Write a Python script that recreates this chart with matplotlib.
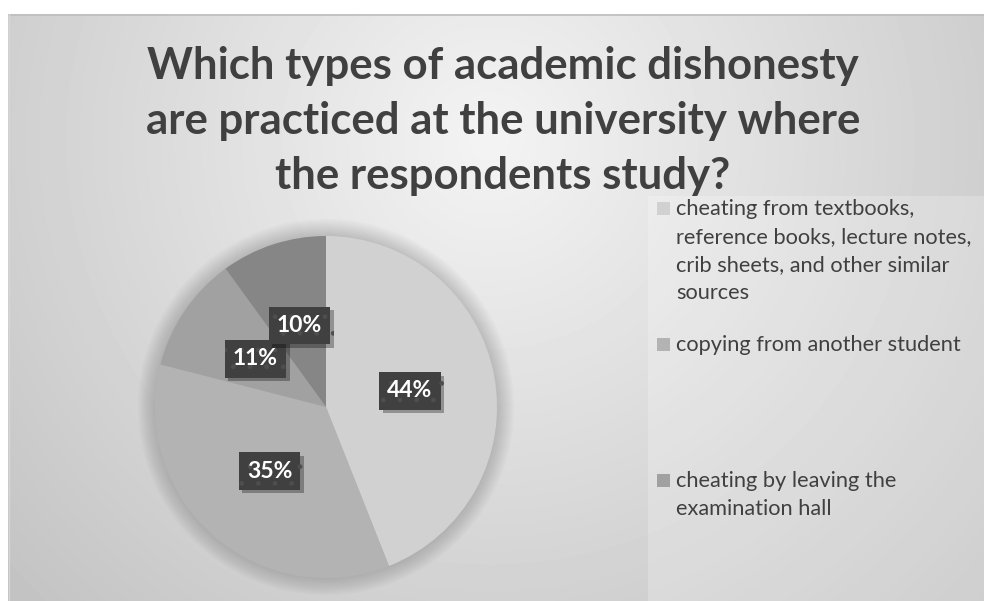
import numpy as np
import matplotlib
matplotlib.use("Agg")
import matplotlib.pyplot as plt
from matplotlib import patheffects
from matplotlib.patches import Rectangle, Circle

# ---- data ----
values = [44, 35, 11, 10]
slice_colors = ["#d1d1d1", "#b3b3b3", "#a1a1a1", "#868686"]
legend_labels = [
    "cheating from textbooks,\nreference books, lecture notes,\ncrib sheets, and other similar\nsources",
    "copying from another student",
    "cheating by leaving the\nexamination hall",
]
title = "Which types of academic dishonesty\nare practiced at the university where\nthe respondents study?"

W, H = 984, 601
fig = plt.figure(figsize=(W / 100, H / 100), dpi=100)
fig.patch.set_facecolor("white")

def fx(x):
    return x / W

def fy(y):
    return 1 - y / H

# ---- background gradient (chart area) ----
x0, y0 = 8, 14
bg = fig.add_axes([fx(x0), 0, 1 - fx(x0), 1 - y0 / H])
bg.set_axis_off()
xs = np.arange(x0, W)
ys = np.arange(y0, H)
XX, YY = np.meshgrid(xs, ys)
d = np.sqrt(((XX - 490) / 1.0) ** 2 + ((YY - 140) / 1.0) ** 2)
val = np.clip(0.955 - 0.00029 * d, 0, 1)
bg.imshow(val, cmap="gray", vmin=0, vmax=1, aspect="auto",
          extent=(x0, W, H, y0), interpolation="bilinear")
bg.set_xlim(x0, W)
bg.set_ylim(H, y0)
# top border line
bg.plot([x0, W], [y0 + 0.5, y0 + 0.5], color="#bdbdbd", lw=1.2)
bg.plot([x0 + 0.5, x0 + 0.5], [y0, H], color="#d5d5d5", lw=1.0)
# legend panel overlay
bg.add_patch(Rectangle((648, 196), W - 648, H - 196, facecolor="white",
                       alpha=0.22, edgecolor="none"))

# ---- pie ----
cx, cy, r = 326, 407, 171
ax = fig.add_axes([fx(cx - r), fy(cy + r), 2 * r / W, 2 * r / H])
ax.set_axis_off()
for k in range(10):
    ax.add_patch(Circle((0, 0), 1.0 + 0.01 * (k + 1), facecolor="black",
                        alpha=0.015, edgecolor="none", zorder=0, clip_on=False))
wedges, texts, autotexts = ax.pie(
    values, colors=slice_colors, startangle=90, counterclock=False,
    autopct="%d%%", pctdistance=0.5,
    wedgeprops=dict(linewidth=0),
    textprops=dict(color="white", fontsize=16.5, fontweight="bold",
                   family=["Lato", "DejaVu Sans"]))
ax.set_xlim(-1.0, 1.0)
ax.set_ylim(-1.0, 1.0)
for t in autotexts:
    t.set_bbox(dict(boxstyle="square,pad=0.36", facecolor="#404040",
                    edgecolor="#4e4e4e", linewidth=0, hatch="."))
    t.get_bbox_patch().set_path_effects([
        patheffects.withSimplePatchShadow(offset=(2.5, -2.5),
                                          shadow_rgbFace="black", alpha=0.3),
        patheffects.Normal()])

# ---- title ----
fig.text(fx(503), fy(46), title, ha="center", va="top",
         fontsize=31.5, fontweight="bold", color="#404040",
         family=["Lato", "DejaVu Sans"], linespacing=1.45)

# ---- legend (manual, evenly spaced entries) ----
for i, lab in enumerate(legend_labels):
    ycen = 208 + 136 * i
    fig.patches.append(Rectangle((fx(657), fy(ycen + 6.5)), 13 / W, 13 / H,
                                 transform=fig.transFigure, figure=fig,
                                 facecolor=slice_colors[i], edgecolor="none"))
    fig.text(fx(676), fy(ycen - 9), lab, ha="left", va="top",
             fontsize=15.7, color="#404040", family=["Lato", "DejaVu Sans"],
             linespacing=1.5)

fig.savefig("out.png", dpi=100)
